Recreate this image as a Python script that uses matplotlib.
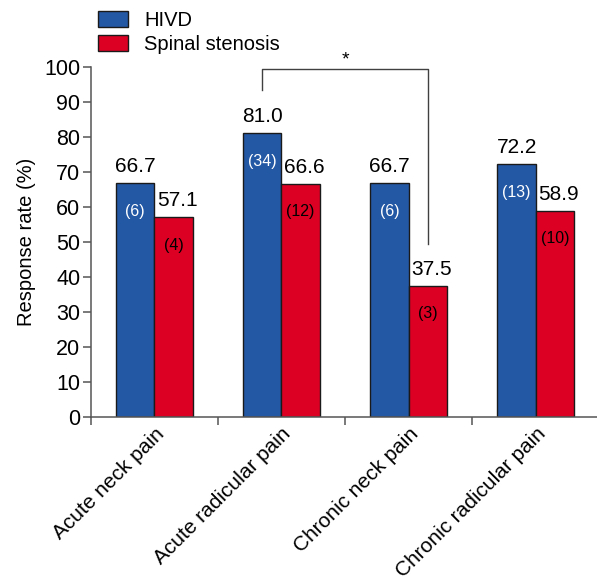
import matplotlib.pyplot as plt
import numpy as np

plt.rcParams['font.family'] = ['Liberation Sans', 'DejaVu Sans']

# data
categories = ['Acute neck pain', 'Acute radicular pain', 'Chronic neck pain', 'Chronic radicular pain']
hivd = [66.7, 81.0, 66.7, 72.2]
stenosis = [57.1, 66.6, 37.5, 58.9]
hivd_n = ['(6)', '(34)', '(6)', '(13)']
stenosis_n = ['(4)', '(12)', '(3)', '(10)']

blue = '#2358a5'
red = '#dc0023'
axis_col = '#555555'

fig = plt.figure(figsize=(5.97, 5.85), dpi=100)
ax = fig.add_axes([0.152, 0.287, 0.852, 0.599])

x = np.arange(len(categories))
w = 0.302
b1 = ax.bar(x - w / 2, hivd, w, color=blue, edgecolor='#1a1a1a', linewidth=1, label='HIVD')
b2 = ax.bar(x + w / 2, stenosis, w, color=red, edgecolor='#1a1a1a', linewidth=1, label='Spinal stenosis')

for i in range(len(categories)):
    ax.text(x[i] - w / 2, hivd[i] + 2.0, f'{hivd[i]:.1f}', ha='center', va='bottom', fontsize=15)
    ax.text(x[i] + w / 2 + 0.03, stenosis[i] + 2.0, f'{stenosis[i]:.1f}', ha='center', va='bottom', fontsize=15)
    ax.text(x[i] - w / 2, hivd[i] - 8, hivd_n[i], ha='center', va='center', fontsize=11.5, color='white')
    ax.text(x[i] + w / 2, stenosis[i] - 8, stenosis_n[i], ha='center', va='center', fontsize=11.5, color='black')

# significance bracket
xl = x[1] - w / 2
xr = x[2] + w / 2
ax.plot([xl, xl, xr, xr], [93.3, 99.3, 99.3, 49.3], color='#404040', lw=1, clip_on=False)
ax.text((xl + xr) / 2, 99.6, '*', ha='center', va='bottom', fontsize=14)

ax.set_xlim(-0.5, 3.5)
ax.set_ylim(0, 100)
ax.set_yticks(np.arange(0, 101, 10))
ax.set_xticks(np.arange(-0.5, 3.6, 1.0))
ax.set_xticklabels([])
ax.set_xticks(x, minor=True)
ax.set_xticklabels(categories, minor=True, rotation=45, ha='right', va='top',
                   rotation_mode='anchor', fontsize=15)
ax.tick_params(axis='x', which='minor', length=0, pad=5)
ax.tick_params(axis='both', which='major', length=5.5, width=1.1, color=axis_col, direction='out')
ax.tick_params(axis='y', labelsize=15.5, pad=2)

for s in ['top', 'right']:
    ax.spines[s].set_visible(False)
for s in ['left', 'bottom']:
    ax.spines[s].set_color(axis_col)
    ax.spines[s].set_linewidth(1.1)

ax.set_ylabel('Response rate (%)', fontsize=14.5, labelpad=6)

fig.legend(handles=[b1, b2], loc='upper left', bbox_to_anchor=(0.164, 0.981),
           frameon=False, fontsize=14.5, borderpad=0, borderaxespad=0,
           handlelength=1.5, handleheight=0.8, handletextpad=0.8, labelspacing=0.25)

fig.savefig('out.png', dpi=100)
